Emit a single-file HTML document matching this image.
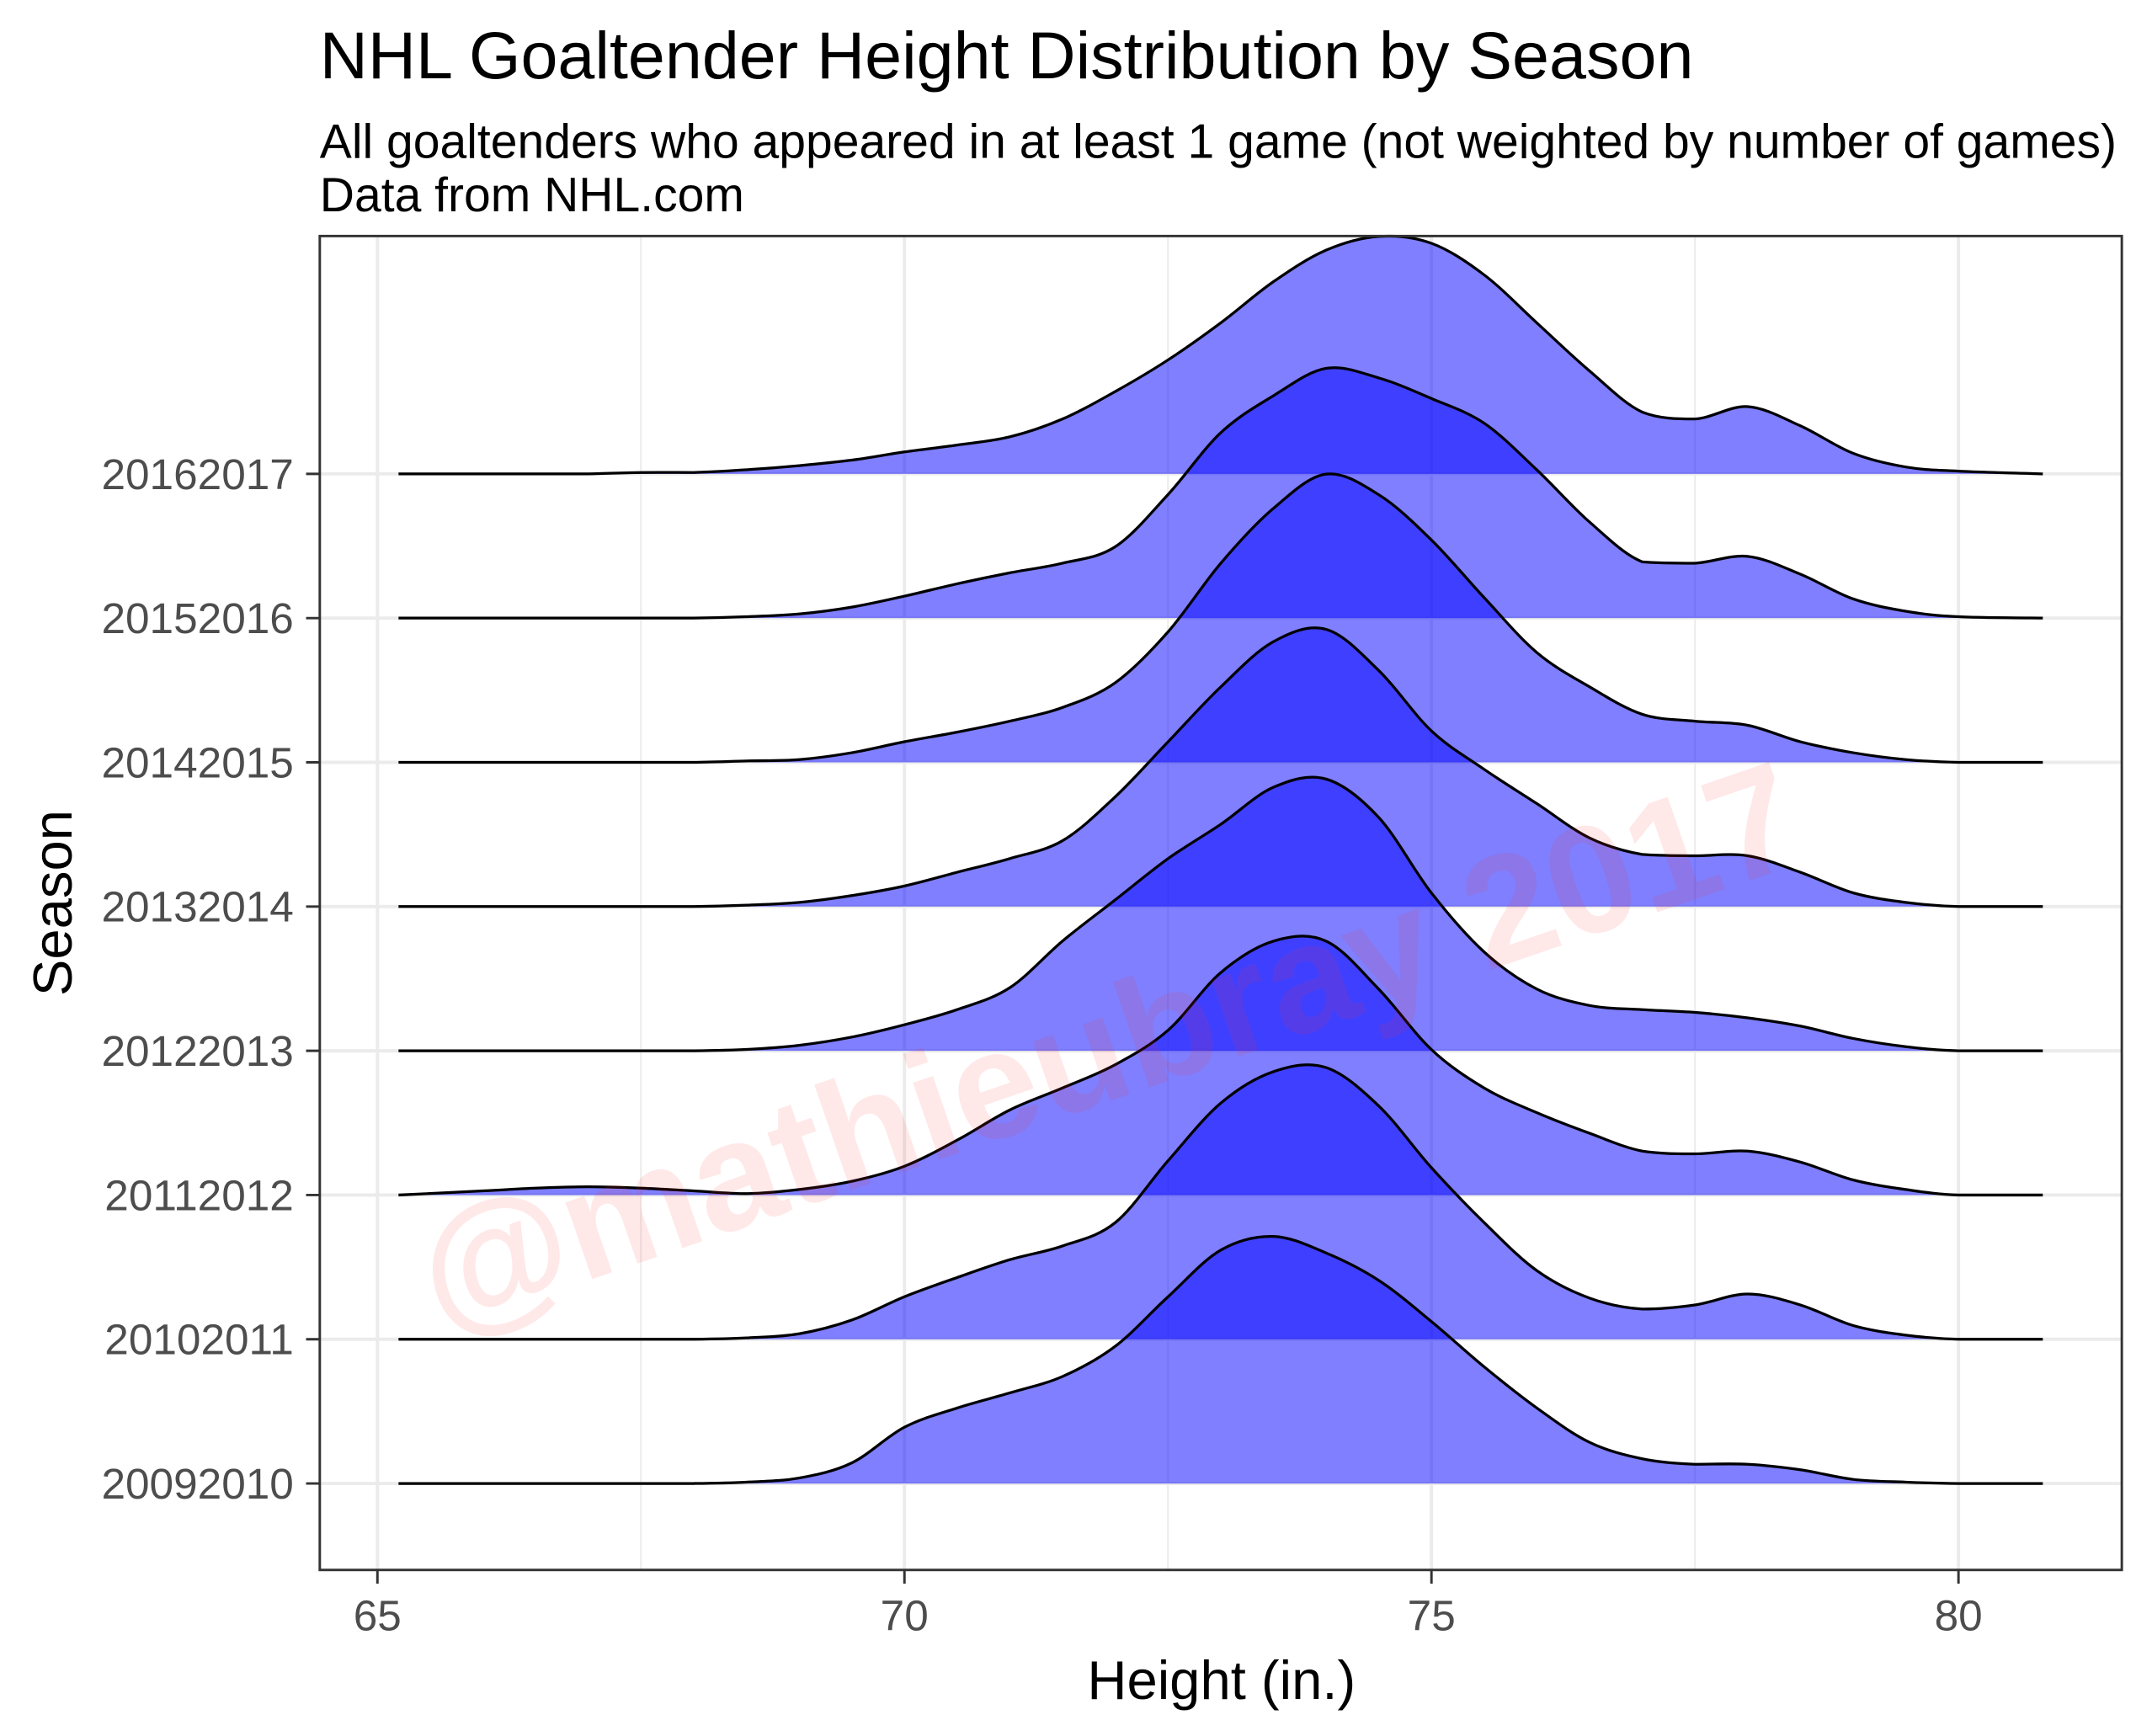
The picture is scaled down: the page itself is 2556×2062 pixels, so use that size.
<!DOCTYPE html>
<html><head><meta charset="utf-8"><style>
html,body{margin:0;padding:0;background:#fff;}
svg{display:block;font-family:"Liberation Sans",Arial,sans-serif;}
</style></head><body>
<svg id="chart" width="2556" height="2062" viewBox="0 0 1568 1265" preserveAspectRatio="none" xmlns="http://www.w3.org/2000/svg">
<rect x="0" y="0" width="1568" height="1265" fill="#fff"/>
<text x="233" y="57" font-size="48.5" fill="#000">NHL Goaltender Height Distribution by Season</text>
<text x="233" y="115" font-size="35" fill="#000">All goaltenders who appeared in at least 1 game (not weighted by number of games)</text>
<text x="233" y="154" font-size="35" fill="#000">Data from NHL.com</text>
<g id="grid"></g>
<g id="ridges"></g>
<text x="810" y="800" font-size="112" font-weight="bold" fill="#ff2a2a" fill-opacity="0.11" text-anchor="middle" transform="rotate(-19 810 770)">@mathieubray 2017</text>
<rect x="233" y="172" width="1313" height="972" fill="none" stroke="#333" stroke-width="1.8"/>
<g id="axes"></g>
<text x="890" y="1238" font-size="40" text-anchor="middle" fill="#000">Height (in.)</text>
<text x="0" y="0" font-size="40" text-anchor="middle" fill="#000" transform="translate(52 658) rotate(-90)">Season</text>
</svg>
<script>
const seasons = ["20092010","20102011","20112012","20122013","20132014","20142015","20152016","20162017"];
const heightsIn = [65.2,66,66.5,67,67.5,68,68.5,69,69.5,70,70.5,71,71.5,72,72.5,73,73.5,74,74.5,75,75.5,76,76.5,77,77.5,78,78.5,79,79.5,80,80.8];
const d20092010 = [0,0,0,0,0,0,1,4,15,41,55,66,78,100,136,170,180,168,148,118,85,55,30,18,14,14,10,3,1,0,0];
const d20102011 = [0,0,0,0,0,0,1,4,14,31,45,58,68,85,130,172,195,198,170,125,85,50,30,22,25,33,25,10,3,0,0];
const d20112012 = [0,3,5,6,5,3,1,4,10,21,40,62,78,95,120,162,185,185,150,106,78,60,45,32,30,32,24,11,4,0,0];
const d20122013 = [0,0,0,0,0,0,1,4,10,19,30,46,80,110,140,165,192,198,170,115,72,45,33,30,28,24,18,9,3,0,0];
const d20132014 = [0,0,0,0,0,0,1,3,8,15,25,35,48,80,120,160,193,202,172,128,100,75,50,38,37,37,25,10,3,0,0];
const d20142015 = [0,0,0,0,0,0,1,2,7,15,22,30,40,58,95,145,185,210,195,162,120,80,55,35,30,27,15,7,2,0,0];
const d20152016 = [0,0,0,0,0,0,1,3,8,16,25,33,40,52,90,135,162,182,175,160,142,108,70,41,40,45,32,14,5,1,0];
const d20162017 = [0,0,0,0,1,1,3,6,10,16,21,27,40,60,83,110,140,163,173,168,145,110,75,45,40,49,35,15,5,2,0];
const densities = [d20092010,d20102011,d20112012,d20122013,d20132014,d20142015,d20152016,d20162017];
const xTicks = [65,70,75,80];
const xMinor = [67.5,72.5,77.5];

const NS="http://www.w3.org/2000/svg";
function xS(v){return 275+(v-65)*76.8;}
function rowY(i){return 1081-i*105.1;}
function hS(v){return v;}
function mk(tag,attrs,parent){const e=document.createElementNS(NS,tag);for(const k in attrs)e.setAttribute(k,attrs[k]);parent.appendChild(e);return e;}
function smooth(pts){
  let d="M"+pts[0][0]+","+pts[0][1];
  for(let i=0;i<pts.length-1;i++){
    const p0=pts[Math.max(0,i-1)],p1=pts[i],p2=pts[i+1],p3=pts[Math.min(pts.length-1,i+2)];
    const c1x=p1[0]+(p2[0]-p0[0])/6,c1y=p1[1]+(p2[1]-p0[1])/6;
    const c2x=p2[0]-(p3[0]-p1[0])/6,c2y=p2[1]-(p3[1]-p1[1])/6;
    d+=" C"+c1x.toFixed(2)+","+Math.min(c1y,Math.max(p1[1],p2[1])).toFixed(2)+" "+c2x.toFixed(2)+","+Math.min(c2y,Math.max(p1[1],p2[1])).toFixed(2)+" "+p2[0].toFixed(2)+","+p2[1].toFixed(2);
  }
  return d;
}
const grid=document.getElementById('grid'),ridges=document.getElementById('ridges'),axes=document.getElementById('axes');
xMinor.forEach(v=>{
  const l=mk('line',{x1:xS(v),x2:xS(v),y1:172,y2:1144,stroke:'#ebebeb','stroke-width':1.2},grid);
  
  
});
xTicks.forEach(v=>{
  const l=mk('line',{x1:xS(v),x2:xS(v),y1:172,y2:1144,stroke:'#ebebeb','stroke-width':2.4},grid);
  
  
});
seasons.forEach((s,i)=>{
  const l=mk('line',{x1:233,x2:1546,y1:rowY(i),y2:rowY(i),stroke:'#ebebeb','stroke-width':2.4},grid);
  
  
});
for(let i=seasons.length-1;i>=0;i--){
  const base=rowY(i);
  const pts=heightsIn.map((h,j)=>[xS(h),base-hS(densities[i][j])]);
  const line=smooth(pts);
  const g=mk('g',{},ridges);
  
  
  const f=mk('path',{d:line+" L"+pts[pts.length-1][0]+","+base+" L"+pts[0][0]+","+base+" Z",fill:'#0000ff','fill-opacity':0.5,stroke:'none'},g);
  
  
  const p=mk('path',{d:line,fill:'none',stroke:'#000','stroke-width':2},g);
  
  
}
seasons.forEach((s,i)=>{
  const t=mk('line',{x1:223,x2:233,y1:rowY(i),y2:rowY(i),stroke:'#333','stroke-width':1.8},axes);
  
  
  const tx=mk('text',{x:214,y:rowY(i)+11,'font-size':31.5,'text-anchor':'end',fill:'#4d4d4d'},axes);
  tx.textContent=s;
  
  
});
xTicks.forEach(v=>{
  const t=mk('line',{x1:xS(v),x2:xS(v),y1:1144,y2:1154,stroke:'#333','stroke-width':1.8},axes);
  
  
  const tx=mk('text',{x:xS(v),y:1188,'font-size':31.5,'text-anchor':'middle',fill:'#4d4d4d'},axes);
  tx.textContent=String(v);
  
  
});
</script>
</body></html>
